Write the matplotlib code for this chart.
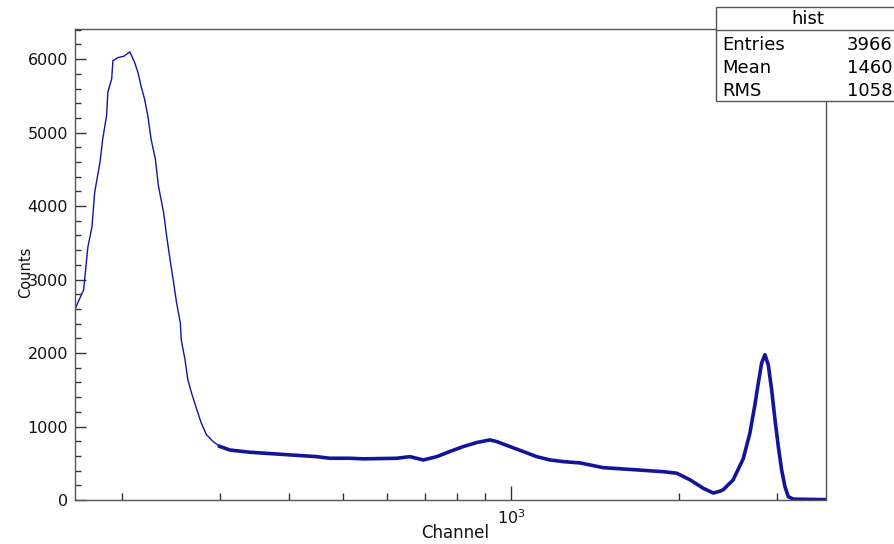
import numpy as np
import matplotlib.pyplot as plt
from matplotlib.patches import Rectangle
from matplotlib.lines import Line2D
from matplotlib.ticker import LogFormatterSciNotation, NullFormatter, MultipleLocator

# spectrum (channel, counts)
channel = [165, 171, 174, 177, 179, 183, 185, 188, 189, 192, 193, 197, 202, 207,
           211, 214, 217, 220, 223, 226, 230, 233, 238, 241, 244, 248, 251, 255,
           256, 260, 263, 267, 273, 278, 284, 292, 300, 313, 340, 390, 448, 473,
           514, 543, 624, 659, 696, 736, 777, 821, 868, 917, 943, 996, 1052, 1112,
           1175, 1241, 1276, 1330, 1465, 1682, 1877, 1984, 2096, 2214, 2308, 2372,
           2405, 2505, 2612, 2685, 2742, 2780, 2819, 2858, 2897, 2938, 2979, 3020,
           3062, 3104, 3147, 3212, 3442, 3678]
counts = [2600, 2860, 3440, 3720, 4190, 4600, 4910, 5230, 5550, 5730, 5980, 6020, 6040, 6100,
          5960, 5820, 5620, 5455, 5225, 4910, 4640, 4270, 3910, 3590, 3310, 2960, 2690, 2410,
          2180, 1910, 1640, 1460, 1230, 1050, 890, 795, 730, 680, 650, 620, 590, 568,
          568, 560, 568, 590, 545, 590, 660, 727, 782, 818, 795, 727, 660, 590,
          545, 523, 515, 505, 440, 410, 385, 365, 275, 160, 95, 120,
          140, 273, 560, 909, 1300, 1591, 1864, 1977, 1841, 1500, 1091, 727,
          409, 182, 45, 12, 8, 5]

stats_name = "hist"
stats_labels = ["Entries", "Mean", "RMS"]
stats_values = ["3966", "1460", "1058"]

plt.rcParams["font.family"] = ["DejaVu Sans"]
W, H = 895, 544
fig = plt.figure(figsize=(W / 100, H / 100), dpi=100)
ax = fig.add_axes([75 / W, 44 / H, 751 / W, 471 / H])

line_color = "#14149a"
split = channel.index(300)
ax.plot(channel[:split + 1], counts[:split + 1], color=line_color, lw=1.0)
ax.plot(channel[split:], counts[split:], color=line_color, lw=2.6,
        solid_joinstyle="round")

ax.set_xscale("log")
ax.set_xlim(165, 3678)
ax.set_ylim(0, 6410)

ax.yaxis.set_major_locator(MultipleLocator(1000))
ax.yaxis.set_minor_locator(MultipleLocator(200))
ax.xaxis.set_major_formatter(LogFormatterSciNotation())
ax.xaxis.set_minor_formatter(NullFormatter())
ax.tick_params(axis="both", which="both", direction="in", colors="#333333",
               labelcolor="#111111", labelsize=11.5)
ax.tick_params(axis="y", which="major", length=8, width=1, pad=5)
ax.tick_params(axis="y", which="minor", length=4.3, width=1)
ax.tick_params(axis="x", which="major", length=10, width=1, pad=6)
ax.tick_params(axis="x", which="minor", length=5, width=1)
for s in ax.spines.values():
    s.set_color("#555555")
    s.set_linewidth(1.0)

ax.set_xlabel("Channel", fontsize=12, color="#111111")
ax.xaxis.set_label_coords(0.506, -0.051)
ax.set_ylabel("Counts", fontsize=10.5, color="#111111")
ax.yaxis.set_label_coords(-0.056, 0.484)

# stats box
def fx(px):
    return px / W

def fy(py):
    return 1 - py / H

fig.patches.append(Rectangle((fx(716), fy(101)), fx(900) - fx(716), fy(7) - fy(101),
                             transform=fig.transFigure, facecolor="white",
                             edgecolor="#555555", lw=1.0, zorder=5))
fig.lines.append(Line2D([fx(716), fx(900)], [fy(30), fy(30)],
                        transform=fig.transFigure, color="#555555", lw=1.0, zorder=6))
fig.text(fx(808), fy(19), stats_name, ha="center", va="center", fontsize=13, zorder=7)
for i, (lab, val) in enumerate(zip(stats_labels, stats_values)):
    y = fy(45 + 23 * i)
    fig.text(fx(722), y, lab, ha="left", va="center", fontsize=13, zorder=7)
    fig.text(fx(847), y, val, ha="left", va="center", fontsize=13, zorder=7)

fig.savefig("out.png", dpi=100)
